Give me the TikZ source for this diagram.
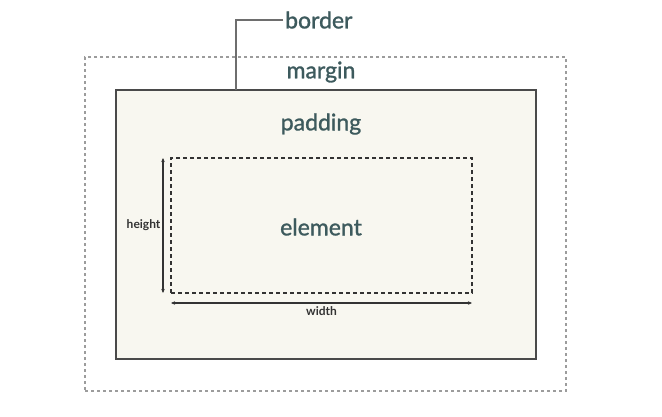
\documentclass[tikz,border=0pt]{standalone}
\usepackage{fontspec}
\setmainfont{Lato}
\newfontfamily\labelfont[FakeBold=1.2]{Lato}
\usetikzlibrary{arrows.meta}
\definecolor{labelteal}{HTML}{3D5A5D}
\definecolor{paper}{HTML}{F8F7F0}
\definecolor{edgegray}{HTML}{4A4A4A}
\definecolor{margingray}{HTML}{9C9C9C}

\begin{document}
\begin{tikzpicture}[x=1pt, y=-1pt,
  box/.style={rectangle, inner sep=0pt, outer sep=0pt},
  biglabel/.style={text=labelteal, font=\labelfont\fontsize{23}{25}\selectfont},
  smalllabel/.style={text=black!80, font=\bfseries\fontsize{12}{14}\selectfont},
  dimarrow/.style={line width=1.1pt, black!80, {Stealth[length=4pt,width=3.5pt]}-{Stealth[length=4pt,width=3.5pt]}}]
  \useasboundingbox[fill=white] (0,0) rectangle (662,416);

  \node[box, draw=margingray, line width=1.1pt, dash pattern=on 3pt off 3pt,
        minimum width=481pt, minimum height=334pt] (marginbox) at (325.5,224) {};
  \node[box, draw=edgegray, fill=paper, line width=1.6pt,
        minimum width=420pt, minimum height=269pt] (borderbox) at (326,224.5) {};
  \node[box, draw=black!80, line width=1.5pt, dash pattern=on 4pt off 3pt,
        minimum width=301pt, minimum height=135pt] (elembox) at (321.5,225.5) {};

  \node[biglabel, anchor=west, inner sep=2pt] (borderlbl) at (283,20) {border};
  \node[biglabel] (marginlbl) at (321,72) {margin};
  \node[biglabel] (paddinglbl) at (321,124) {padding};
  \node[biglabel] (elemlbl) at (321,227) {element};

  \coordinate (tap) at (236,90);
  \draw[edgegray!80, line width=1.4pt] (borderlbl.west) -| (tap);

  \draw[dimarrow] ([xshift=-8pt]elembox.north west) -- ([xshift=-8pt]elembox.south west)
    node[smalllabel, midway, left, inner sep=2pt] (heightlbl) {height};
  \draw[dimarrow] ([yshift=-10pt]elembox.south west) -- ([yshift=-10pt]elembox.south east)
    node[smalllabel, midway, below, inner sep=3pt] (widthlbl) {width};
\end{tikzpicture}
\end{document}
